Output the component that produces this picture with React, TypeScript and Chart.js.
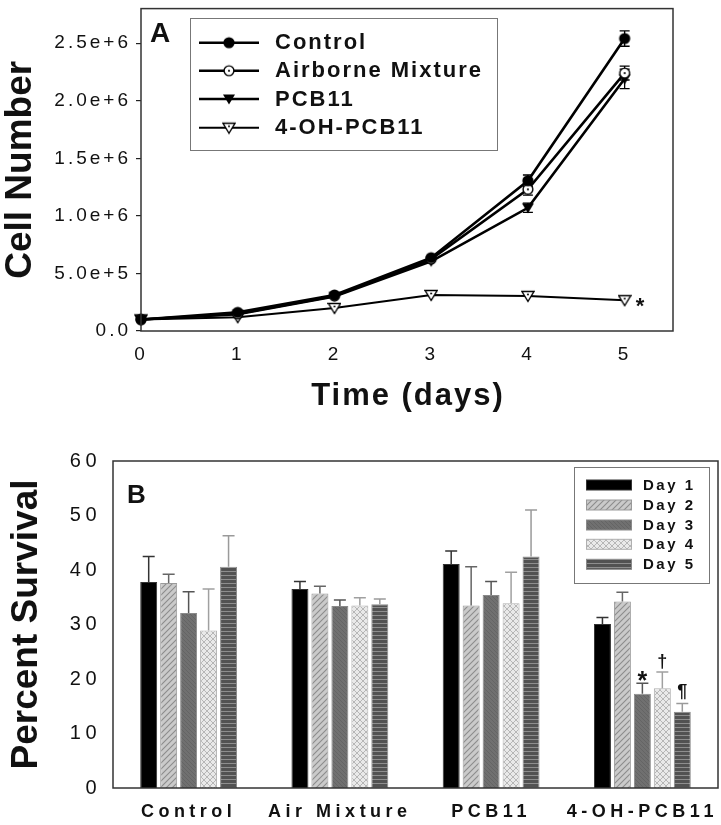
import React, { useEffect, useRef } from 'react';
import { Chart, registerables } from 'chart.js';

Chart.register(...registerables);

const FONT = '"Liberation Sans", Arial, Helvetica, sans-serif';
const INK = '#111111';

// ---------- Panel A data ----------
const days = [0, 1, 2, 3, 4, 5];
const dayTickLabels = ['0', '1', '2', '3', '4', '5'];
const cellTickValues = [0, 5e5, 1e6, 1.5e6, 2e6, 2.5e6];
const cellTickLabels = ['0.0', '5.0e+5', '1.0e+6', '1.5e+6', '2.0e+6', '2.5e+6'];
const seriesNamesA = ['Control', 'Airborne Mixture', 'PCB11', '4-OH-PCB11'];
const controlCells = [1.0e5, 1.62e5, 3.13e5, 6.37e5, 1.305e6, 2.54e6];
const controlErr = [4e3, 8e3, 1.0e4, 1.5e4, 5.0e4, 6.7e4];
const airborneCells = [1.0e5, 1.5e5, 3.05e5, 6.25e5, 1.23e6, 2.24e6];
const airborneErr = [4e3, 8e3, 1.0e4, 1.5e4, 5.0e4, 6.0e4];
const pcb11Cells = [1.0e5, 1.45e5, 3.0e5, 6.05e5, 1.07e6, 2.19e6];
const pcb11Err = [4e3, 8e3, 1.0e4, 1.5e4, 4.0e4, 8.5e4];
const ohPcb11Cells = [1.0e5, 1.2e5, 2.0e5, 3.13e5, 3.05e5, 2.68e5];
const ohPcb11Err = [3e3, 5e3, 8e3, 1.0e4, 1.0e4, 1.0e4];
const growthMark = '*';

// ---------- Panel B data ----------
const groups = ['Control', 'Air Mixture', 'PCB11', '4-OH-PCB11'];
const dayNames = ['Day 1', 'Day 2', 'Day 3', 'Day 4', 'Day 5'];
const survivalTickLabels = ['0', '10', '20', '30', '40', '50', '60'];
const day1Survival = [37.8, 36.5, 41.1, 30.1];
const day2Survival = [37.6, 35.7, 33.5, 34.2];
const day3Survival = [32.1, 33.4, 35.4, 17.3];
const day4Survival = [28.9, 33.5, 33.9, 18.3];
const day5Survival = [40.6, 33.7, 42.5, 14.0];
const day1Err = [4.7, 1.4, 2.4, 1.2];
const day2Err = [1.6, 1.3, 7.1, 1.7];
const day3Err = [3.9, 1.1, 2.5, 1.9];
const day4Err = [7.6, 1.4, 5.7, 3.0];
const day5Err = [5.7, 1.0, 8.5, 1.5];
const ohSigMarks = ['', '', '*', '\u2020', '\u00B6'];

function makeCanvas(w: number, h: number) {
  const c = document.createElement('canvas');
  c.width = w;
  c.height = h;
  return c;
}

function markerImage(kind: string): HTMLCanvasElement {
  const s = 14;
  const c = makeCanvas(s, s);
  const g = c.getContext('2d')!;
  g.lineWidth = 1.4;
  g.strokeStyle = '#000';
  g.fillStyle = '#000';
  const cx = s / 2;
  const cy = s / 2;
  if (kind === 'filledCircle') {
    g.beginPath();
    g.arc(cx, cy, 5.6, 0, Math.PI * 2);
    g.fill();
  } else if (kind === 'openCircle') {
    g.beginPath();
    g.arc(cx, cy, 4.9, 0, Math.PI * 2);
    g.fillStyle = '#fff';
    g.fill();
    g.stroke();
    g.fillStyle = '#000';
    g.beginPath();
    g.arc(cx, cy, 1.1, 0, Math.PI * 2);
    g.fill();
  } else {
    g.beginPath();
    g.moveTo(cx - 6, cy - 4.5);
    g.lineTo(cx + 6, cy - 4.5);
    g.lineTo(cx, cy + 5.5);
    g.closePath();
    if (kind === 'filledTri') {
      g.fill();
    } else {
      g.fillStyle = '#fff';
      g.fill();
      g.stroke();
      g.fillStyle = '#000';
      g.beginPath();
      g.arc(cx, cy - 1.5, 1, 0, Math.PI * 2);
      g.fill();
    }
  }
  return c;
}

function makeFill(kind: string): CanvasPattern | string {
  if (kind === 'solid') return '#000000';
  let c: HTMLCanvasElement;
  let g: CanvasRenderingContext2D;
  if (kind === 'diagLight') {
    c = makeCanvas(6, 6);
    g = c.getContext('2d')!;
    g.fillStyle = '#cacaca';
    g.fillRect(0, 0, 6, 6);
    g.strokeStyle = '#8c8c8c';
    g.lineWidth = 1.1;
    g.beginPath();
    g.moveTo(0, 6); g.lineTo(6, 0);
    g.moveTo(-1, 1); g.lineTo(1, -1);
    g.moveTo(5, 7); g.lineTo(7, 5);
    g.stroke();
  } else if (kind === 'diagDark') {
    c = makeCanvas(4, 4);
    g = c.getContext('2d')!;
    g.fillStyle = '#707070';
    g.fillRect(0, 0, 4, 4);
    g.strokeStyle = '#646464';
    g.lineWidth = 1;
    g.beginPath();
    g.moveTo(0, 0); g.lineTo(4, 4);
    g.moveTo(-1, 3); g.lineTo(1, 5);
    g.moveTo(3, -1); g.lineTo(5, 1);
    g.stroke();
  } else if (kind === 'cross') {
    c = makeCanvas(6, 6);
    g = c.getContext('2d')!;
    g.fillStyle = '#e9e9e9';
    g.fillRect(0, 0, 6, 6);
    g.strokeStyle = '#b6b6b6';
    g.lineWidth = 1;
    g.beginPath();
    g.moveTo(0, 0); g.lineTo(6, 6);
    g.moveTo(0, 6); g.lineTo(6, 0);
    g.stroke();
  } else {
    c = makeCanvas(2, 4);
    g = c.getContext('2d')!;
    g.fillStyle = '#525252';
    g.fillRect(0, 0, 2, 4);
    g.fillStyle = '#8e8e8e';
    g.fillRect(0, 3, 2, 1);
  }
  return g.createPattern(c, 'repeat')!;
}

function spacedText(ctx: CanvasRenderingContext2D, spacing: number) {
  (ctx as any).letterSpacing = spacing + 'px';
}

function zeroPad(s: any) {
  s.paddingTop = 0;
  s.paddingBottom = 0;
  s.paddingLeft = 0;
  s.paddingRight = 0;
}

export default function App() {
  const refA = useRef<HTMLCanvasElement>(null);
  const refB = useRef<HTMLCanvasElement>(null);

  useEffect(() => {
    document.body.style.margin = '0';
    const markers = {
      control: markerImage('filledCircle'),
      airborne: markerImage('openCircle'),
      pcb: markerImage('filledTri'),
      oh: markerImage('openTri'),
    };
    const seriesA = [
      { name: seriesNamesA[0], vals: controlCells, err: controlErr, marker: markers.control, width: 2.6 },
      { name: seriesNamesA[1], vals: airborneCells, err: airborneErr, marker: markers.airborne, width: 2.6 },
      { name: seriesNamesA[2], vals: pcb11Cells, err: pcb11Err, marker: markers.pcb, width: 2.6 },
      { name: seriesNamesA[3], vals: ohPcb11Cells, err: ohPcb11Err, marker: markers.oh, width: 2.0 },
    ];

    const chartA = new Chart(refA.current!, {
      type: 'line',
      data: {
        datasets: seriesA.map((s) => ({
          label: s.name,
          data: days.map((d, i) => ({ x: d, y: s.vals[i] })),
          errors: s.err,
          borderColor: '#000',
          borderWidth: s.width,
          tension: 0,
          pointStyle: s.marker,
          pointRadius: 6,
          clip: false,
        })) as any,
      },
      options: {
        responsive: false,
        animation: false,
        devicePixelRatio: 1,
        layout: { padding: { top: 3, right: 48, left: 0, bottom: 0 } },
        plugins: { legend: { display: false }, tooltip: { enabled: false } },
        scales: {
          x: {
            type: 'linear',
            min: 0,
            max: 5.5,
            bounds: 'data',
            afterBuildTicks: (s: any) => { s.ticks = days.map((d) => ({ value: d })); },
            afterFit: (s: any) => { s.height = 89; zeroPad(s); },
            grid: { display: false, drawTicks: false },
            border: { display: false },
            ticks: {
              padding: 12,
              color: INK,
              font: { family: FONT, size: 19 },
              callback: (v: any, i: number) => dayTickLabels[i] ?? '',
            },
          },
          y: {
            min: 0,
            max: 2.8e6,
            bounds: 'data',
            afterBuildTicks: (s: any) => { s.ticks = cellTickValues.map((v) => ({ value: v })); },
            afterFit: (s: any) => { s.width = 141; zeroPad(s); },
            grid: { drawOnChartArea: false, drawTicks: true, tickLength: 5, color: '#222', lineWidth: 1.2 },
            border: { display: false },
            ticks: {
              padding: 5,
              color: INK,
              font: { family: FONT, size: 19 },
              callback: (v: any, i: number) => cellTickLabels[i] ?? '',
            },
          },
        },
      },
      plugins: [
        {
          id: 'decorA',
          beforeDraw(chart: any) {
            spacedText(chart.ctx, 3);
          },
          beforeDatasetsDraw(chart: any) {
            const ctx = chart.ctx;
            const xs = chart.scales.x;
            const ys = chart.scales.y;
            ctx.save();
            ctx.strokeStyle = '#000';
            ctx.lineWidth = 1.3;
            chart.data.datasets.forEach((ds: any) => {
              ds.data.forEach((p: any, i: number) => {
                const e = ds.errors[i];
                const x = xs.getPixelForValue(p.x);
                const y1 = ys.getPixelForValue(p.y + e);
                const y2 = ys.getPixelForValue(p.y - e);
                if (Math.abs(y2 - y1) < 6) return;
                ctx.beginPath();
                ctx.moveTo(x, y1); ctx.lineTo(x, y2);
                ctx.moveTo(x - 5, y1); ctx.lineTo(x + 5, y1);
                ctx.moveTo(x - 5, y2); ctx.lineTo(x + 5, y2);
                ctx.stroke();
              });
            });
            ctx.restore();
          },
          afterDraw(chart: any) {
            const ctx = chart.ctx;
            const a = chart.chartArea;
            const xs = chart.scales.x;
            const ys = chart.scales.y;
            ctx.save();
            spacedText(ctx, 0);
            ctx.strokeStyle = '#333';
            ctx.lineWidth = 1.5;
            ctx.strokeRect(a.left, a.top, a.right - a.left, a.bottom - a.top);

            ctx.fillStyle = INK;
            ctx.textAlign = 'left';
            ctx.textBaseline = 'alphabetic';
            ctx.font = `bold 28px ${FONT}`;
            ctx.fillText('A', 150, 42);

            // significance mark
            ctx.font = `bold 22px ${FONT}`;
            const lastX = xs.getPixelForValue(days[days.length - 1]);
            const lastY = ys.getPixelForValue(ohPcb11Cells[ohPcb11Cells.length - 1]);
            ctx.fillText(growthMark, lastX + 11, lastY + 13);

            // x title
            spacedText(ctx, 2);
            ctx.font = `bold 31px ${FONT}`;
            ctx.textAlign = 'center';
            ctx.fillText('Time (days)', (a.left + a.right) / 2 + 1, 405);

            // y title
            spacedText(ctx, 0);
            ctx.save();
            ctx.translate(31, (a.top + a.bottom) / 2);
            ctx.rotate(-Math.PI / 2);
            ctx.font = `bold 37px ${FONT}`;
            ctx.fillText('Cell Number', 0, 0);
            ctx.restore();

            // legend
            ctx.strokeStyle = '#777';
            ctx.lineWidth = 1;
            ctx.strokeRect(190.5, 18.5, 307, 132);
            const rows = [42.7, 70.7, 99, 127.7];
            ctx.font = `bold 22px ${FONT}`;
            ctx.textAlign = 'left';
            ctx.textBaseline = 'middle';
            spacedText(ctx, 2);
            seriesA.forEach((s, i) => {
              const y = rows[i];
              ctx.strokeStyle = '#000';
              ctx.lineWidth = s.width;
              ctx.beginPath();
              ctx.moveTo(199, y);
              ctx.lineTo(259, y);
              ctx.stroke();
              ctx.drawImage(s.marker, 229 - s.marker.width / 2, y - s.marker.height / 2);
              ctx.fillStyle = INK;
              ctx.fillText(s.name, 275, y + 0.5);
            });
            ctx.restore();
          },
        },
      ],
    } as any);

    const fills = [makeFill('solid'), makeFill('diagLight'), makeFill('diagDark'), makeFill('cross'), makeFill('hstripe')];
    const borders = ['#333333', '#9a9a9a', '#8a8a8a', '#b0b0b0', '#8a8a8a'];
    const errColors = ['#333333', '#666666', '#555555', '#a0a0a0', '#9a9a9a'];
    const survivalByDay = [day1Survival, day2Survival, day3Survival, day4Survival, day5Survival];
    const errByDay = [day1Err, day2Err, day3Err, day4Err, day5Err];

    const chartB = new Chart(refB.current!, {
      type: 'bar',
      data: {
        labels: groups,
        datasets: dayNames.map((name, k) => ({
          label: name,
          data: survivalByDay[k],
          errors: errByDay[k],
          backgroundColor: fills[k],
          borderColor: borders[k],
          borderWidth: 1,
          categoryPercentage: 0.66,
          barPercentage: 0.85,
        })) as any,
      },
      options: {
        responsive: false,
        animation: false,
        devicePixelRatio: 1,
        layout: { padding: { top: 41, right: 3, left: 0, bottom: 0 } },
        plugins: { legend: { display: false }, tooltip: { enabled: false } },
        scales: {
          x: {
            afterFit: (s: any) => { s.height = 37; zeroPad(s); },
            grid: { display: false, drawTicks: false },
            border: { display: false },
            ticks: {
              padding: 13,
              autoSkip: false,
              maxRotation: 0,
              color: INK,
              font: { family: FONT, size: 18, weight: 'bold' },
            },
          },
          y: {
            min: 0,
            max: 60,
            afterFit: (s: any) => { s.width = 113; zeroPad(s); },
            grid: { display: false, drawTicks: false },
            border: { display: false },
            ticks: {
              stepSize: 10,
              padding: 12,
              color: INK,
              font: { family: FONT, size: 20 },
              callback: (v: any) => survivalTickLabels[Math.round(v / 10)] ?? '',
            },
          },
        },
      },
      plugins: [
        {
          id: 'decorB',
          beforeDraw(chart: any) {
            spacedText(chart.ctx, 4.5);
          },
          afterDatasetsDraw(chart: any) {
            const ctx = chart.ctx;
            const ys = chart.scales.y;
            ctx.save();
            spacedText(ctx, 0);
            ctx.lineWidth = 1.5;
            chart.data.datasets.forEach((ds: any, k: number) => {
              const meta = chart.getDatasetMeta(k);
              ctx.strokeStyle = errColors[k];
              meta.data.forEach((bar: any, j: number) => {
                const top = ys.getPixelForValue(ds.data[j] + ds.errors[j]);
                ctx.beginPath();
                ctx.moveTo(bar.x, bar.y);
                ctx.lineTo(bar.x, top);
                ctx.moveTo(bar.x - 6, top);
                ctx.lineTo(bar.x + 6, top);
                ctx.stroke();
              });
            });
            // significance marks for the last group
            ctx.fillStyle = INK;
            ctx.textAlign = 'center';
            ctx.textBaseline = 'alphabetic';
            const g = groups.length - 1;
            ohSigMarks.forEach((m, k) => {
              if (!m) return;
              const ds: any = chart.data.datasets[k];
              const bar: any = chart.getDatasetMeta(k).data[g];
              const top = ys.getPixelForValue(ds.data[g] + ds.errors[g]);
              if (m === '*') {
                ctx.font = `bold 25px ${FONT}`;
                ctx.fillText(m, bar.x, top + 6);
              } else {
                ctx.font = `bold 18px ${FONT}`;
                ctx.fillText(m, bar.x, top - (m === '\u00B6' ? 7 : 5));
              }
            });
            ctx.restore();
          },
          afterDraw(chart: any) {
            const ctx = chart.ctx;
            const a = chart.chartArea;
            ctx.save();
            spacedText(ctx, 0);
            ctx.strokeStyle = '#333';
            ctx.lineWidth = 1.5;
            ctx.strokeRect(a.left, a.top, a.right - a.left, a.bottom - a.top);

            ctx.fillStyle = INK;
            ctx.textAlign = 'left';
            ctx.textBaseline = 'alphabetic';
            ctx.font = `bold 26px ${FONT}`;
            ctx.fillText('B', 127, 83);

            ctx.save();
            ctx.translate(36.5, (a.top + a.bottom) / 2);
            ctx.rotate(-Math.PI / 2);
            ctx.textAlign = 'center';
            ctx.font = `bold 37px ${FONT}`;
            ctx.fillText('Percent Survival', 0, 0);
            ctx.restore();

            // legend
            ctx.strokeStyle = '#777';
            ctx.lineWidth = 1;
            ctx.strokeRect(574.5, 47.5, 135, 116);
            const rows = [65, 85, 105, 124.3, 144.3];
            ctx.font = `bold 15px ${FONT}`;
            ctx.textBaseline = 'middle';
            spacedText(ctx, 2.5);
            dayNames.forEach((name, k) => {
              const y = rows[k];
              ctx.fillStyle = fills[k];
              ctx.fillRect(586.5, y - 5, 45, 10);
              ctx.strokeStyle = borders[k];
              ctx.strokeRect(586.5, y - 5, 45, 10);
              ctx.fillStyle = INK;
              ctx.fillText(name, 643, y + 0.5);
            });
            ctx.restore();
          },
        },
      ],
    } as any);

    return () => {
      chartA.destroy();
      chartB.destroy();
    };
  }, []);

  return (
    <div style={{ width: 721, height: 825, background: '#fff' }}>
      <canvas ref={refA} width={721} height={420} style={{ display: 'block' }} />
      <canvas ref={refB} width={721} height={405} style={{ display: 'block' }} />
    </div>
  );
}
